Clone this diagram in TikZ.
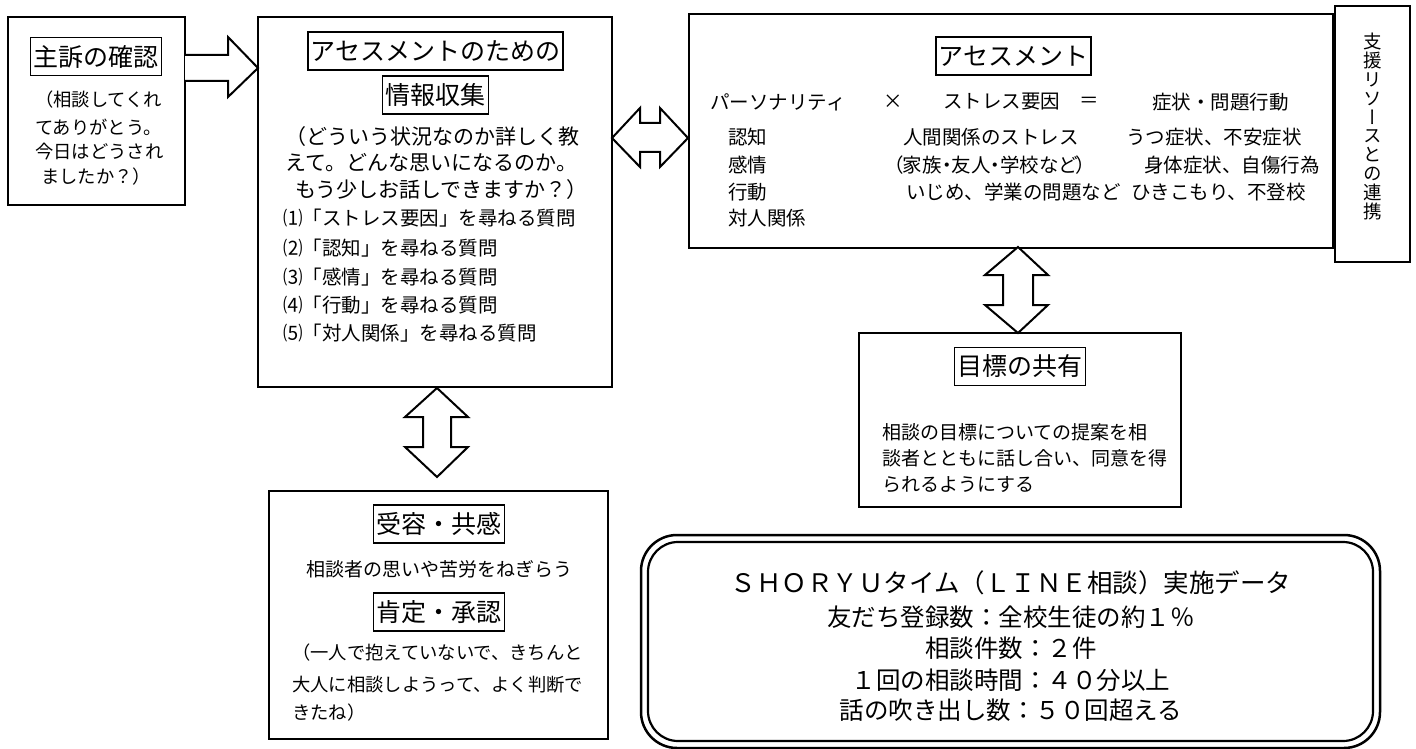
\documentclass[tikz,border=0pt]{standalone}
\usepackage{fontspec}
\setmainfont{Noto Sans CJK JP}
\newfontfamily\vfont[RawFeature=+vert]{Noto Sans CJK JP}
\newfontfamily\pfont[RawFeature=+palt]{Noto Sans CJK JP}
\newcommand{\fs}[1]{\fontsize{#1}{#1}\selectfont}
\tikzset{
  box/.style={draw, line width=2.5pt, fill=white, inner sep=0pt},
  ttl/.style={draw, line width=1.8pt, fill=white, inner xsep=3pt, inner ysep=0pt, minimum height=38pt, font=\fs{25}},
  barrow/.style={draw, line width=2pt, fill=white, line join=miter},
  tw/.style={anchor=west, inner sep=0pt},
  tc/.style={anchor=center, inner sep=0pt},
  bodyA/.style={font=\fs{18.3}},
  bodyB/.style={font=\fs{21}},
  bodyC/.style={font=\fs{19.5}},
  bodyD/.style={font=\fs{19}},
  bodyE/.style={font=\fs{24.5}},
}
\begin{document}
\begin{tikzpicture}[x=1pt,y=-1pt]
\useasboundingbox[fill=white] (0,0) rectangle (1416,749);

% ---------- boxes ----------
\node[box, minimum width=177, minimum height=188] (b1) at (96.5,111) {};
\node[box, minimum width=354, minimum height=370] (b2) at (435,202) {};
\node[box, minimum width=644, minimum height=234] (b3) at (1011,131) {};
\node[box, minimum width=75, minimum height=256] (b4) at (1372.5,134) {};
\node[box, minimum width=322, minimum height=174] (b5) at (1020,420) {};
\node[box, minimum width=339, minimum height=248] (b6) at (438.5,615) {};
\node[box, rounded corners=36pt, minimum width=739, minimum height=213] (b7) at (1010.5,641.5) {};
\node[draw, line width=2.2pt, rounded corners=30pt, minimum width=725, minimum height=199, inner sep=0pt] (b7i) at (1010.5,641.5) {};

% ---------- block arrows ----------
\draw[barrow] (185,55) -- (228,55) -- (228,37) -- (258,68) -- (228,97) -- (228,81) -- (185,81);
\draw[barrow] (612,138) -- (640,108) -- (640,123) -- (660,123) -- (660,108) -- (688,138)
  -- (660,167) -- (660,152) -- (640,152) -- (640,167) -- cycle;
\draw[barrow] (437,388) -- (468,417) -- (451,417) -- (451,447) -- (468,447) -- (437,477)
  -- (405,447) -- (423,447) -- (423,417) -- (405,417) -- cycle;
\draw[barrow] (1018,247) -- (1048,275) -- (1033,275) -- (1033,305) -- (1048,305) -- (1018,333)
  -- (985,305) -- (1003,305) -- (1003,275) -- (985,275) -- cycle;

% ---------- box 1 ----------
\node[ttl] (t1) at (96,56.5) {主訴の確認};
\node[tw, bodyA] (l1a) at (35,100) {（相談してくれ};
\node[tw, bodyA] (l1b) at (35,127) {てありがとう。};
\node[tw, bodyA] (l1c) at (35,152) {今日はどうされ};
\node[tw, bodyA] (l1d) at (41,177) {ましたか？）};

% ---------- box 2 ----------
\node[ttl] (t2a) at (435.5,51) {アセスメントのための};
\node[ttl] (t2b) at (435.5,95) {情報収集};
\node[tw, bodyB] (l2a) at (285,137) {（どういう状況なのか詳しく教};
\node[tw, bodyB] (l2b) at (285,163) {えて。どんな思いになるのか。};
\node[tw, bodyB] (l2c) at (295,190) {もう少しお話しできますか？）};
\node[tw, bodyC] (q1) at (283,218) {⑴「ストレス要因」を尋ねる質問};
\node[tw, bodyC] (q2) at (283,248) {⑵「認知」を尋ねる質問};
\node[tw, bodyC] (q3) at (283,277) {⑶「感情」を尋ねる質問};
\node[tw, bodyC] (q4) at (283,305) {⑷「行動」を尋ねる質問};
\node[tw, bodyC] (q5) at (283,333) {⑸「対人関係」を尋ねる質問};

% ---------- box 3 ----------
\node[ttl] (t3) at (1013.5,56) {アセスメント};
\node[tw, bodyC] (r1) at (710,102) {パーソナリティ};
\node[tc, bodyC] (r2) at (893,102) {×};
\node[tw, bodyC] (r3) at (943,102) {ストレス要因};
\node[tc, bodyC] (r4) at (1089,102) {＝};
\node[tw, bodyC] (r5) at (1152,102) {症状・問題行動};
\node[tw, bodyC] (c1a) at (728,137) {認知};
\node[tw, bodyC] (c1b) at (728,165) {感情};
\node[tw, bodyC] (c1c) at (728,192) {行動};
\node[tw, bodyC] (c1d) at (728,218) {対人関係};
\node[tw, bodyC] (c2a) at (903,137) {人間関係のストレス};
\node[tw, bodyC] (c2b) at (893,165) {\pfont （家族・友人・学校など）};
\node[tw, bodyC] (c2c) at (906,192) {いじめ、学業の問題など};
\node[tw, bodyC] (c3a) at (1126,137) {うつ症状、不安症状};
\node[tw, bodyC] (c3b) at (1144,165) {身体症状、自傷行為};
\node[tw, bodyC] (c3c) at (1131,192) {ひきこもり、不登校};

% ---------- box 4 (vertical text) ----------
\node[tc, align=center, font=\fontsize{18.5}{18.9}\selectfont\vfont] (v4) at (1372.5,126.5)
  {支\\援\\リ\\ソ\\ー\\ス\\と\\の\\連\\携};

% ---------- box 5 ----------
\node[ttl] (t5) at (1020,366.5) {目標の共有};
\node[tw, bodyD] (l5a) at (882,432) {相談の目標についての提案を相};
\node[tw, bodyD] (l5b) at (882,458) {談者とともに話し合い、同意を得};
\node[tw, bodyD] (l5c) at (882,485) {られるようにする};

% ---------- box 6 ----------
\node[ttl] (t6a) at (439,524) {受容・共感};
\node[tc, bodyD] (l6a) at (439.5,569) {相談者の思いや苦労をねぎらう};
\node[ttl] (t6b) at (439,612) {肯定・承認};
\node[tw, bodyA] (l6b) at (292,653) {（一人で抱えていないで、きちんと};
\node[tw, bodyA] (l6c) at (292,685) {大人に相談しようって、よく判断で};
\node[tw, bodyA] (l6d) at (292,713) {きたね）};

% ---------- box 7 ----------
\node[tc, font=\fs{25.5}] (d1) at (1011,583) {ＳＨＯＲＹＵタイム（ＬＩＮＥ相談）実施データ};
\node[tc, bodyE] (d2) at (1011,617) {友だち登録数：全校生徒の約１％};
\node[tc, bodyE] (d3) at (1011,648) {相談件数：２件};
\node[tc, bodyE] (d4) at (1011,680) {１回の相談時間：４０分以上};
\node[tc, bodyE] (d5) at (1011,710) {話の吹き出し数：５０回超える};
\end{tikzpicture}
\end{document}
